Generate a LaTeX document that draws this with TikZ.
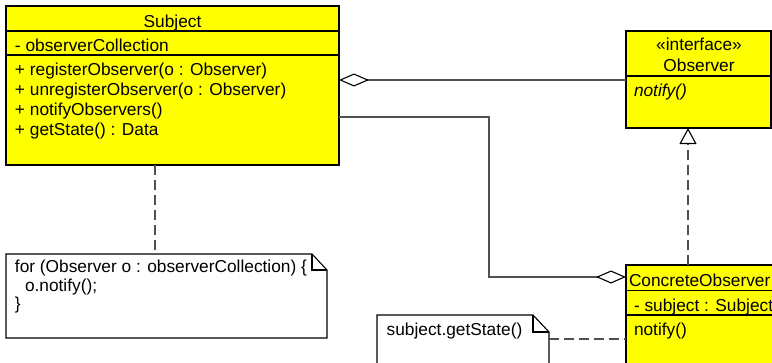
\documentclass[tikz,border=0pt]{standalone}
\usepackage{fontspec}
\setmainfont{Liberation Sans}
\usetikzlibrary{arrows.meta,calc}
\definecolor{umlyellow}{HTML}{FFFF00}
\definecolor{linegray}{HTML}{505050}
\begin{document}
\begin{tikzpicture}[x=1pt,y=-1pt,
  font=\fontsize{17.3}{20}\selectfont,
  box/.style={draw=black,fill=umlyellow,line width=1.3pt,inner sep=0pt,outer sep=0pt,anchor=north west},
  notebox/.style={draw=none,inner sep=0pt,outer sep=0pt,anchor=north west},
  txt/.style={inner sep=0pt,outer sep=0pt,anchor=base west},
  ctxt/.style={inner sep=0pt,outer sep=0pt,anchor=base},
  sep/.style={draw=black,line width=1.3pt},
  conn/.style={draw=linegray,line width=1.3pt},
  dashline/.style={conn,dash pattern=on 10pt off 5pt}
]
\useasboundingbox (0,0) rectangle (772,362);
\clip (0,0) rectangle (772,362);
\fill[white] (0,0) rectangle (772,362);

% Subject class
\node[box,minimum width=333pt,minimum height=159pt] (subject) at (6,6) {};
\draw[sep] (6,31) -- (339,31);
\draw[sep] (6,55) -- (339,55);
\node[ctxt] (subjname) at (172.5,27.3) {Subject};
\node[txt] (sa1) at (15,51.7) {- observerCollection};
\node[txt] (sm1) at (15,75) {+ registerObserver(o : Observer)};
\node[txt] (sm2) at (15,95) {+ unregisterObserver(o : Observer)};
\node[txt] (sm3) at (15,115) {+ notifyObservers()};
\node[txt] (sm4) at (15,135) {+ getState() : Data};

% Observer interface
\node[box,minimum width=145pt,minimum height=97pt] (observer) at (626,31) {};
\draw[sep] (626,76) -- (771,76);
\node[ctxt] (ostereo) at (699,50.7) {«interface»};
\node[ctxt] (oname) at (699,71.7) {Observer};
\node[txt] (om1) at (634,96) {\itshape notify()};

% ConcreteObserver class
\node[box,minimum width=152pt,minimum height=110pt] (concrete) at (626,265) {};
\draw[sep] (626,290.7) -- (778,290.7);
\draw[sep] (626,315) -- (778,315);
\node[txt] (cname) at (629,286.7) {ConcreteObserver};
\node[txt] (ca1) at (634,311) {- subject : Subject};
\node[txt] (cm1) at (634,335.7) {notify()};

% Note 1
\node[notebox,minimum width=321pt,minimum height=84pt] (note1) at (6,254) {};
\draw[black,line width=1.1pt,fill=white]
  (note1.north west) -- ($(note1.north east)+(-15,0)$) -- ($(note1.north east)+(0,16)$)
  -- (note1.south east) -- (note1.south west) -- cycle;
\draw[black,line width=1.1pt]
  ($(note1.north east)+(-15,0)$) -- ($(note1.north east)+(-15,16)$) -- ($(note1.north east)+(0,16)$);
\node[txt] (n1l1) at (15,272.5) {for (Observer o : observerCollection) \{};
\node[txt] (n1l2) at (25,291) {o.notify();};
\node[txt] (n1l3) at (15,309.5) {\}};

% Note 2
\node[notebox,minimum width=172pt,minimum height=70pt] (note2) at (377,315) {};
\draw[black,line width=1.1pt,fill=white]
  (note2.north west) -- ($(note2.north east)+(-16,0)$) -- ($(note2.north east)+(0,17)$)
  -- (note2.south east) -- (note2.south west) -- cycle;
\draw[black,line width=1.1pt]
  ($(note2.north east)+(-16,0)$) -- ($(note2.north east)+(-16,17)$) -- ($(note2.north east)+(0,17)$);
\node[txt] (n2l1) at (386.7,335.7) {subject.getState()};

% Connectors
\coordinate (a1) at (0,80);
\draw[conn,{Diamond[length=30pt,width=13pt,fill=white,color=black,line width=1.1pt]}-]
  (subject.east |- a1) -- (observer.west |- a1);

\coordinate (b1) at (489,117);
\coordinate (b2) at (489,277);
\draw[conn,-{Diamond[length=30pt,width=13pt,fill=white,color=black,line width=1.1pt]}]
  (subject.east |- b1) -- (b1) -- (b2) -- (concrete.west |- b2);

\coordinate (g) at (688,0);
\draw[dashline,-{Triangle[length=16pt,width=17pt,fill=white,color=black,line width=1.1pt]}]
  (concrete.north -| g) -- (observer.south -| g);

\coordinate (n1) at (155,0);
\draw[dashline] (subject.south -| n1) -- (note1.north -| n1);

\coordinate (n2) at (0,339);
\draw[dashline] (note2.east |- n2) -- (concrete.west |- n2);
\end{tikzpicture}
\end{document}
